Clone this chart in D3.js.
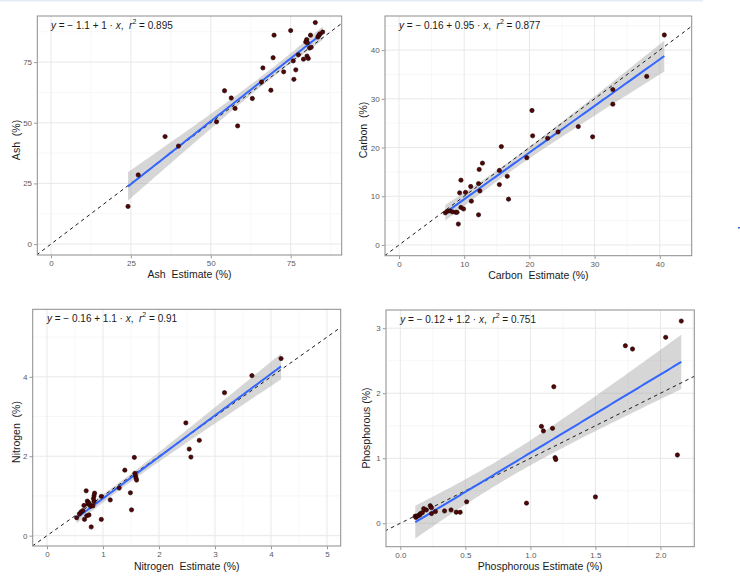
<!DOCTYPE html>
<html>
<head>
<meta charset="utf-8">
<script src="https://cdnjs.cloudflare.com/ajax/libs/d3/7.8.5/d3.min.js"></script>
<style>
  body { margin: 0; background: #fff; }
  svg { display: block; font-family: "Liberation Sans", Arial, sans-serif; }
  text { white-space: pre; }
</style>
</head>
<body>
<svg id="chart" width="740" height="579"></svg>
<script>
var ashPoints = [[24.1,15.5],[27.3,28.5],[35.7,44.3],[39.9,40.4],[51.8,50.4],[54.3,63.2],[56.4,60.2],[57.6,55.9],
  [58.4,48.7],[63.0,60.0],[65.9,66.8],[66.3,72.6],[68.8,63.4],[69.5,76.8],[69.8,86.1],[72.8,71.0],[75.0,88.0],
  [75.8,75.5],[76.0,67.9],[76.6,71.8],[77.4,78.0],[79.0,76.2],[79.7,83.3],[80.0,84.3],[80.2,83.0],[80.1,77.5],
  [80.5,76.5],[80.9,80.8],[81.2,86.1],[81.4,81.1],[82.7,91.3],[83.5,85.3],[83.8,86.0],[84.1,86.6],[85.0,87.4]];
var carbonPoints = [[7.1,6.6],[7.4,6.9],[7.8,7.0],[8.2,6.8],[8.7,6.7],[8.9,6.7],[9.1,4.3],[9.5,7.7],[9.9,7.4],
  [9.3,10.7],[10.2,10.8],[9.5,13.3],[11.0,12.0],[11.1,9.0],[12.2,12.6],[12.4,11.1],[12.2,6.2],[12.3,15.5],
  [12.8,16.8],[15.4,15.3],[15.4,12.4],[16.6,14.1],[16.8,9.4],[15.7,20.2],[19.6,17.9],[20.4,27.6],[20.5,22.4],
  [22.8,21.9],[24.4,23.2],[27.5,24.3],[29.7,22.2],[32.8,31.9],[32.8,28.9],[38.0,34.6],[40.7,43.1]];
var nitrogenPoints = [[0.53,0.45],[0.58,0.55],[0.61,0.60],[0.64,0.63],[0.66,0.76],[0.67,0.41],[0.70,1.13],
  [0.71,0.50],[0.72,0.87],[0.74,0.84],[0.73,0.80],[0.76,0.79],[0.75,0.52],[0.78,0.74],[0.79,0.22],[0.82,0.75],
  [0.84,0.86],[0.83,0.93],[0.84,1.00],[0.85,1.07],[0.97,0.99],[0.97,0.41],[1.13,0.90],[1.29,1.20],[1.39,1.65],
  [1.49,1.08],[1.51,0.65],[1.56,1.97],[1.57,1.57],[1.58,1.51],[1.59,1.45],[1.60,1.40],[2.48,2.84],[2.54,2.18],
  [2.57,1.98],[2.72,2.40],[3.17,3.60],[3.66,4.03],[4.18,4.46]];
var phosPoints = [[0.115,0.11],[0.12,0.09],[0.13,0.11],[0.14,0.12],[0.15,0.13],[0.155,0.15],[0.17,0.165],
  [0.18,0.225],[0.20,0.205],[0.23,0.27],[0.24,0.24],[0.24,0.15],[0.27,0.18],[0.34,0.19],[0.39,0.205],
  [0.43,0.17],[0.46,0.17],[0.51,0.33],[0.97,0.31],[1.085,1.49],[1.10,1.42],[1.17,1.46],[1.18,2.10],
  [1.19,1.01],[1.195,0.98],[1.50,0.405],[1.73,2.73],[1.785,2.68],[2.04,2.86],[2.13,1.05],[2.16,3.11]];

var ashTicks = [0, 25, 50, 75];
var carbonTicks = [0, 10, 20, 30, 40];
var nitrogenXTicks = [0, 1, 2, 3, 4, 5], nitrogenYTicks = [0, 2, 4];
var phosXTicks = [0, 0.5, 1, 1.5, 2], phosYTicks = [0, 1, 2, 3];

var elements = ['Ash', 'Carbon', 'Nitrogen', 'Phosphorous'];
var eqIntercept = ['1.1', '0.16', '0.16', '0.12'];
var eqSlope = ['1', '0.95', '1.1', '1.2'];
var eqR2 = ['0.895', '0.877', '0.91', '0.751'];

var svg = d3.select('#chart');
svg.append('rect').attr('width', 740).attr('height', 579).attr('fill', '#fff');
svg.append('rect').attr('width', 703).attr('height', 1.5).attr('fill', '#e2ebf6');
svg.append('rect').attr('x', 738).attr('y', 227).attr('width', 2).attr('height', 1.5).attr('fill', '#3a5cf0');

var panels = [
  {pts: ashPoints, xt: ashTicks, yt: ashTicks, fmt: d3.format('d'),
   box: [37.3, 16, 341.7, 255], xd: [-4.28, 90.96], yd: [-4.5, 94], ytitle: [19.5, 140], xtitleY: 277.5,
   xlab: 'Ash  Estimate (%)', ylab: 'Ash  (%)'},
  {pts: carbonPoints, xt: carbonTicks, yt: carbonTicks, fmt: d3.format('d'),
   box: [385, 16, 691.7, 255.7], xd: [-2.15, 44.9], yd: [-2.2, 47], ytitle: [366.5, 130], xtitleY: 278.5,
   xlab: 'Carbon  Estimate (%)', ylab: 'Carbon  (%)'},
  {pts: nitrogenPoints, xt: nitrogenXTicks, yt: nitrogenYTicks, fmt: d3.format('d'),
   box: [32.7, 309.3, 340.7, 546], xd: [-0.255, 5.245], yd: [-0.26, 5.7], ytitle: [19.5, 432], xtitleY: 569.5,
   xlab: 'Nitrogen  Estimate (%)', ylab: 'Nitrogen  (%)'},
  {pts: phosPoints, xt: phosXTicks, yt: phosYTicks, fmt: d3.format('.1f'), yfmt: d3.format('d'),
   box: [386, 310, 694.3, 546.7], xd: [-0.11, 2.26], yd: [-0.36, 3.28], ytitle: [369.5, 428], xtitleY: 570,
   xlab: 'Phosphorous Estimate (%)', ylab: 'Phosphorous (%)'}
];

// ordinary least squares with a 95% confidence band, like geom_smooth(method = "lm")
function fitLine(pts){
  var n = pts.length,
      mx = d3.mean(pts, function(d){ return d[0]; }),
      my = d3.mean(pts, function(d){ return d[1]; }),
      sxx = d3.sum(pts, function(d){ return (d[0] - mx) * (d[0] - mx); }),
      sxy = d3.sum(pts, function(d){ return (d[0] - mx) * (d[1] - my); }),
      b = sxy / sxx, a = my - b * mx,
      sse = d3.sum(pts, function(d){ var r = d[1] - a - b * d[0]; return r * r; }),
      s = Math.sqrt(sse / (n - 2)),
      z = 1.96, t = z + (z * z * z + z) / (4 * (n - 2)),
      ext = d3.extent(pts, function(d){ return d[0]; });
  return d3.range(80).map(function(i){
    var x = ext[0] + (ext[1] - ext[0]) * i / 79, yh = a + b * x,
        se = s * Math.sqrt(1 / n + (x - mx) * (x - mx) / sxx);
    return {x: x, y: yh, lo: yh - t * se, hi: yh + t * se};
  });
}

function minors(ticks, dom){
  var step = ticks[1] - ticks[0], out = [];
  for (var v = ticks[0] - step / 2; v <= dom[1]; v += step) if (v >= dom[0]) out.push(v);
  return out;
}

panels.forEach(function(p, i){
  var x = d3.scaleLinear().domain(p.xd).range([p.box[0], p.box[2]]),
      y = d3.scaleLinear().domain(p.yd).range([p.box[3], p.box[1]]),
      g = svg.append('g'),
      clipId = 'clip' + i;

  svg.append('clipPath').attr('id', clipId).append('rect')
    .attr('x', p.box[0]).attr('y', p.box[1])
    .attr('width', p.box[2] - p.box[0]).attr('height', p.box[3] - p.box[1]);

  // grid
  g.selectAll('.mx').data(minors(p.xt, p.xd)).enter().append('line')
    .attr('x1', x).attr('x2', x).attr('y1', p.box[1]).attr('y2', p.box[3])
    .attr('stroke', '#f2f2f2').attr('stroke-width', 0.6);
  g.selectAll('.my').data(minors(p.yt, p.yd)).enter().append('line')
    .attr('y1', y).attr('y2', y).attr('x1', p.box[0]).attr('x2', p.box[2])
    .attr('stroke', '#f2f2f2').attr('stroke-width', 0.6);
  g.selectAll('.gx').data(p.xt).enter().append('line')
    .attr('x1', x).attr('x2', x).attr('y1', p.box[1]).attr('y2', p.box[3])
    .attr('stroke', '#e8e8e8').attr('stroke-width', 1);
  g.selectAll('.gy').data(p.yt).enter().append('line')
    .attr('y1', y).attr('y2', y).attr('x1', p.box[0]).attr('x2', p.box[2])
    .attr('stroke', '#e8e8e8').attr('stroke-width', 1);

  var plot = g.append('g').attr('clip-path', 'url(#' + clipId + ')'),
      fit = fitLine(p.pts);

  plot.append('path').datum(fit)
    .attr('d', d3.area().x(function(d){ return x(d.x); })
      .y0(function(d){ return y(d.lo); }).y1(function(d){ return y(d.hi); }))
    .attr('fill', '#999').attr('fill-opacity', 0.4);

  var lo = Math.min(p.xd[0], p.yd[0]), hi = Math.max(p.xd[1], p.yd[1]);
  plot.append('line')
    .attr('x1', x(lo)).attr('y1', y(lo)).attr('x2', x(hi)).attr('y2', y(hi))
    .attr('stroke', '#1a1a1a').attr('stroke-width', 1).attr('stroke-dasharray', '3.5,3.5');

  plot.append('path').datum(fit)
    .attr('d', d3.line().x(function(d){ return x(d.x); }).y(function(d){ return y(d.y); }))
    .attr('fill', 'none').attr('stroke', '#3366ff').attr('stroke-width', 2);

  plot.selectAll('circle').data(p.pts).enter().append('circle')
    .attr('cx', function(d){ return x(d[0]); }).attr('cy', function(d){ return y(d[1]); })
    .attr('r', 2.15).attr('fill', '#520606').attr('stroke', '#1a0000').attr('stroke-width', 0.6);

  g.append('rect')
    .attr('x', p.box[0]).attr('y', p.box[1])
    .attr('width', p.box[2] - p.box[0]).attr('height', p.box[3] - p.box[1])
    .attr('fill', 'none').attr('stroke', '#8c8c8c').attr('stroke-width', 1);

  // axes
  var xAxis = d3.axisBottom(x).tickValues(p.xt).tickFormat(p.fmt).tickSize(2.75).tickPadding(2),
      yAxis = d3.axisLeft(y).tickValues(p.yt).tickFormat(p.yfmt || p.fmt).tickSize(2.75).tickPadding(2);
  var ax = g.append('g').attr('transform', 'translate(0,' + (p.box[3] + 0.5) + ')').call(xAxis),
      ay = g.append('g').attr('transform', 'translate(' + (p.box[0] - 0.5) + ',0)').call(yAxis);
  [ax, ay].forEach(function(a){
    a.select('.domain').remove();
    a.selectAll('line').attr('stroke', '#555').attr('stroke-width', 0.6);
    a.selectAll('text').attr('fill', '#5a5a5a').attr('font-size', 8)
      .attr('font-family', '"Liberation Sans", Arial, sans-serif');
  });

  svg.append('text')
    .attr('x', (p.box[0] + p.box[2]) / 2).attr('y', p.xtitleY)
    .attr('text-anchor', 'middle').attr('font-size', 10.5).attr('fill', '#1a1a1a')
    .text(p.xlab);
  svg.append('text')
    .attr('transform', 'translate(' + p.ytitle[0] + ',' + p.ytitle[1] + ') rotate(-90)')
    .attr('text-anchor', 'middle').attr('font-size', 10.5).attr('fill', '#1a1a1a')
    .text(p.ylab);

  // equation label
  var eq = svg.append('text')
    .attr('x', x(0)).attr('y', p.box[1] + 12.5)
    .attr('font-size', 10).attr('fill', '#1a1a1a');
  eq.append('tspan').attr('font-style', 'italic').text('y');
  eq.append('tspan').text(' = \u2212 ' + eqIntercept[i] + ' + ' + eqSlope[i] + ' \u00b7 ');
  eq.append('tspan').attr('font-style', 'italic').text('x');
  eq.append('tspan').text(',  ');
  eq.append('tspan').attr('font-style', 'italic').text('r');
  eq.append('tspan').attr('font-size', 7).attr('dy', -4.5).text('2');
  eq.append('tspan').attr('dy', 4.5).text(' = ' + eqR2[i]);
});
</script>
</body>
</html>
